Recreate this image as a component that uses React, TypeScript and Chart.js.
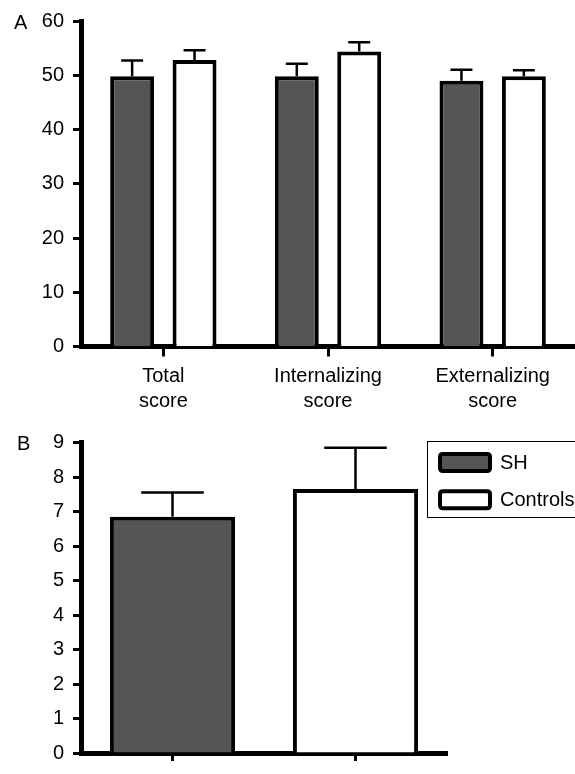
import React, { useEffect, useRef } from 'react';
import { Chart, registerables } from 'chart.js';

Chart.register(...registerables);

// ---- Data ----
const categoriesA: string[][] = [
  ['Total', 'score'],
  ['Internalizing', 'score'],
  ['Externalizing', 'score'],
];
const shValuesA = [49.8, 49.8, 49.0];
const shErrorsA = [2.9, 2.3, 2.0];
const controlsValuesA = [52.8, 54.4, 49.8];
const controlsErrorsA = [1.8, 1.7, 1.1];
const yMaxA = 60;
const yStepA = 10;

const groupsB = ['SH', 'Controls'];
const valuesB = [6.85, 7.65];
const errorsB = [0.7, 1.2];
const yMaxB = 9;
const yStepB = 1;

// ---- Styles ----
const FONT = "'Liberation Sans', Arial, Helvetica, sans-serif";
const SH_FILL = '#555555';
const CTRL_FILL = '#ffffff';
const INK = '#000000';

const errorBarPlugin = {
  id: 'errorBars',
  afterDatasetsDraw(chart: any) {
    const ctx = chart.ctx;
    const yScale = chart.scales.y;
    chart.data.datasets.forEach((ds: any, i: number) => {
      const meta = chart.getDatasetMeta(i);
      const errs: number[] = ds.errors || [];
      meta.data.forEach((el: any, j: number) => {
        const v = ds.data[j];
        const e = errs[j];
        if (v == null || e == null) return;
        const top = yScale.getPixelForValue(v + e);
        const half = el.width / 4;
        ctx.save();
        ctx.strokeStyle = INK;
        ctx.lineWidth = 2.5;
        ctx.beginPath();
        ctx.moveTo(el.x, el.y);
        ctx.lineTo(el.x, top);
        ctx.moveTo(el.x - half, top);
        ctx.lineTo(el.x + half, top);
        ctx.stroke();
        ctx.restore();
      });
    });
  },
};

const panelLabelPlugin = {
  id: 'panelLabel',
  afterDraw(chart: any, _args: any, opts: any) {
    if (!opts || !opts.text) return;
    const ctx = chart.ctx;
    ctx.save();
    ctx.fillStyle = INK;
    ctx.font = `20px ${FONT}`;
    ctx.textAlign = 'left';
    ctx.textBaseline = 'middle';
    ctx.fillText(opts.text, opts.x, chart.chartArea.top + 2);
    ctx.restore();
  },
};

const boxLegendPlugin = {
  id: 'boxLegend',
  afterDraw(chart: any, _args: any, opts: any) {
    if (!opts || !opts.items) return;
    const ctx = chart.ctx;
    const ca = chart.chartArea;
    const bx = ca.right - 20;
    const by = ca.top - 1.5;
    ctx.save();
    ctx.strokeStyle = INK;
    ctx.lineWidth = 1;
    ctx.strokeRect(bx + 0.5, by + 0.5, 200, 76);
    opts.items.forEach((it: any, k: number) => {
      const sy = by + 11 + k * 37.3;
      const sx = bx + 11;
      ctx.beginPath();
      const r = 3;
      const x = sx + 2, y = sy + 2, w = 50, h = 17;
      ctx.moveTo(x + r, y);
      ctx.lineTo(x + w - r, y);
      ctx.quadraticCurveTo(x + w, y, x + w, y + r);
      ctx.lineTo(x + w, y + h - r);
      ctx.quadraticCurveTo(x + w, y + h, x + w - r, y + h);
      ctx.lineTo(x + r, y + h);
      ctx.quadraticCurveTo(x, y + h, x, y + h - r);
      ctx.lineTo(x, y + r);
      ctx.quadraticCurveTo(x, y, x + r, y);
      ctx.closePath();
      ctx.fillStyle = it.fill;
      ctx.fill();
      ctx.lineWidth = 4;
      ctx.stroke();
      ctx.fillStyle = INK;
      ctx.font = `20px ${FONT}`;
      ctx.textAlign = 'left';
      ctx.textBaseline = 'middle';
      ctx.fillText(it.text, bx + 73, sy + 11);
    });
    ctx.restore();
  },
};

function yAxis(max: number, step: number) {
  return {
    min: 0,
    max,
    border: { display: true, color: INK, width: 5 },
    grid: {
      display: true,
      drawOnChartArea: false,
      drawTicks: true,
      tickLength: 8,
      tickWidth: 3,
      tickColor: INK,
      color: INK,
    },
    ticks: {
      stepSize: step,
      color: INK,
      padding: 9,
      font: { family: FONT, size: 20 },
    },
    afterFit(scale: any) {
      scale.width = 81;
    },
  };
}

export default function App() {
  const refA = useRef<HTMLCanvasElement | null>(null);
  const refB = useRef<HTMLCanvasElement | null>(null);

  useEffect(() => {
    if (!refA.current || !refB.current) return;
    const chartA = new Chart(refA.current, {
      type: 'bar',
      data: {
        labels: categoriesA,
        datasets: [
          {
            label: 'SH',
            data: shValuesA,
            errors: shErrorsA,
            backgroundColor: SH_FILL,
            borderColor: INK,
            borderWidth: 4,
            borderSkipped: 'bottom',
            categoryPercentage: 0.758,
            barPercentage: 0.704,
          } as any,
          {
            label: 'Controls',
            data: controlsValuesA,
            errors: controlsErrorsA,
            backgroundColor: CTRL_FILL,
            borderColor: INK,
            borderWidth: 4,
            borderSkipped: 'bottom',
            categoryPercentage: 0.758,
            barPercentage: 0.704,
          } as any,
        ],
      },
      options: {
        responsive: false,
        animation: false,
        layout: { padding: { top: 19.5, left: 0, right: 0, bottom: 0 } },
        plugins: {
          legend: { display: false },
          tooltip: { enabled: false },
          panelLabel: { text: 'A', x: 14 },
        } as any,
        scales: {
          x: {
            border: { display: true, color: INK, width: 5 },
            grid: {
              display: true,
              offset: false,
              drawOnChartArea: false,
              drawTicks: true,
              tickLength: 10,
              tickWidth: 3,
              tickColor: INK,
              color: INK,
            },
            ticks: {
              color: INK,
              padding: 7,
              maxRotation: 0,
              autoSkip: false,
              font: { family: FONT, size: 20, lineHeight: 1.25 },
            },
            afterFit(scale: any) {
              scale.height = 73.5;
            },
          },
          y: yAxis(yMaxA, yStepA),
        } as any,
      },
      plugins: [errorBarPlugin, panelLabelPlugin],
    });

    const chartB = new Chart(refB.current, {
      type: 'bar',
      data: {
        labels: groupsB,
        datasets: [
          {
            label: 'Score',
            data: valuesB,
            errors: errorsB,
            backgroundColor: [SH_FILL, CTRL_FILL],
            borderColor: INK,
            borderWidth: 4,
            borderSkipped: 'bottom',
            categoryPercentage: 0.8,
            barPercentage: 0.855,
          } as any,
        ],
      },
      options: {
        responsive: false,
        animation: false,
        layout: { padding: { top: 22.5, left: 0, right: 128, bottom: 0 } },
        plugins: {
          legend: { display: false },
          tooltip: { enabled: false },
          panelLabel: { text: 'B', x: 17 },
          boxLegend: {
            items: [
              { text: groupsB[0], fill: SH_FILL },
              { text: groupsB[1], fill: CTRL_FILL },
            ],
          },
        } as any,
        scales: {
          x: {
            border: { display: true, color: INK, width: 5 },
            grid: {
              display: true,
              offset: false,
              drawOnChartArea: false,
              drawTicks: true,
              tickLength: 8,
              tickWidth: 3,
              tickColor: INK,
              color: INK,
            },
            ticks: { display: false },
            afterFit(scale: any) {
              scale.height = 7;
            },
          },
          y: yAxis(yMaxB, yStepB),
        } as any,
      },
      plugins: [errorBarPlugin, panelLabelPlugin, boxLegendPlugin],
    });

    return () => {
      chartA.destroy();
      chartB.destroy();
    };
  }, []);

  return (
    <div style={{ position: 'absolute', left: 0, top: 0, width: 575, height: 774, background: '#fff', overflow: 'hidden' }}>
      <canvas ref={refA} width={575} height={420} style={{ position: 'absolute', left: 0, top: 0 }} />
      <canvas ref={refB} width={575} height={354} style={{ position: 'absolute', left: 0, top: 420 }} />
    </div>
  );
}
